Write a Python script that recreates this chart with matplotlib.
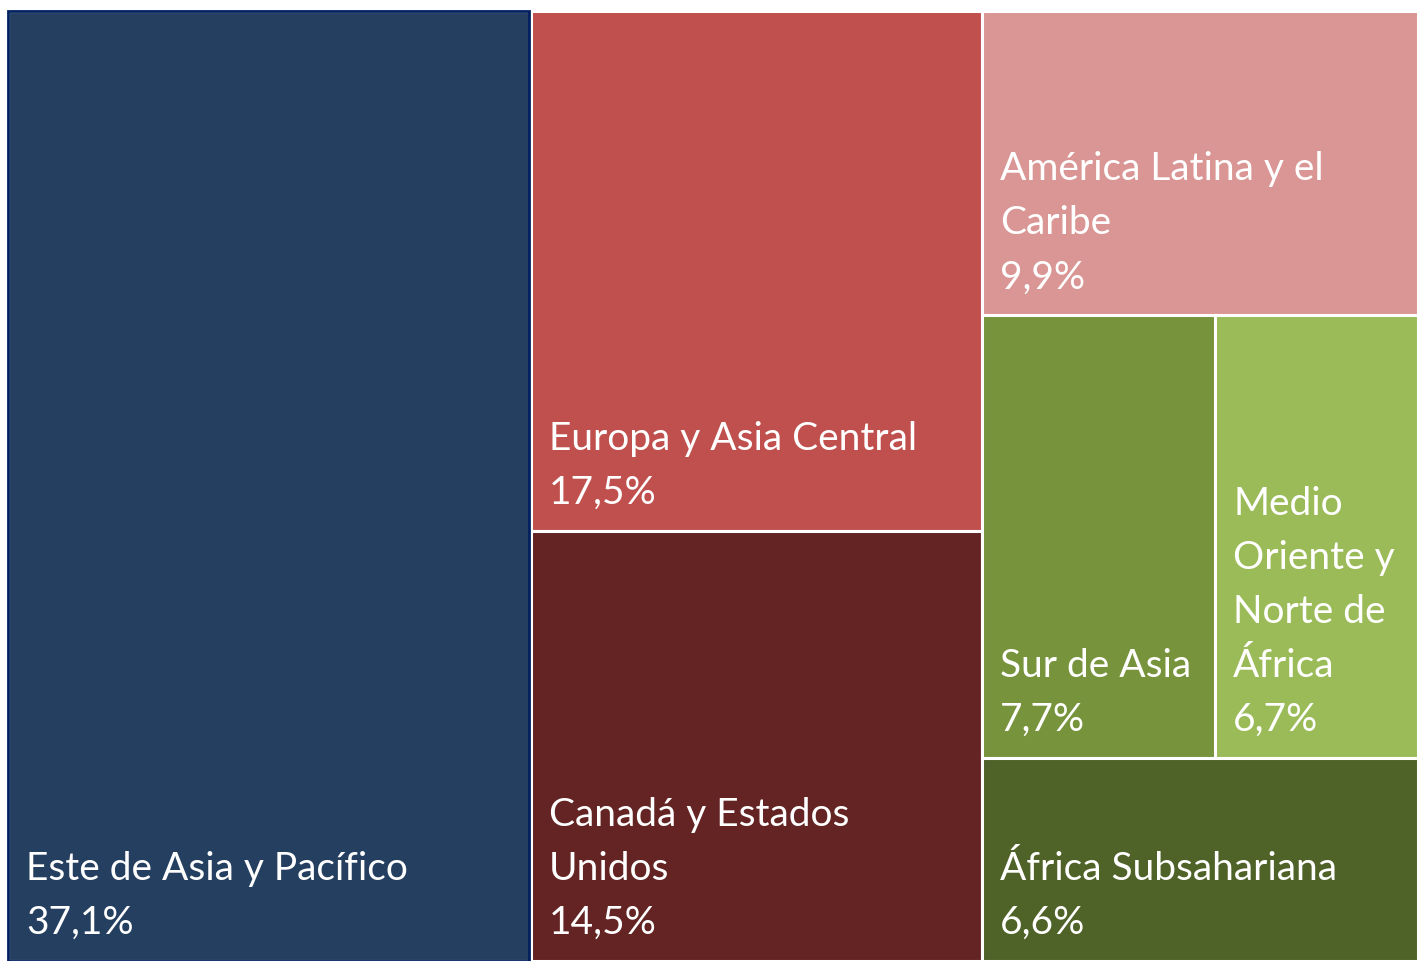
import matplotlib.pyplot as plt
from matplotlib.patches import Rectangle

REGIONS = [
    "Este de Asia y Pacífico",
    "Europa y Asia Central",
    "Canadá y Estados\nUnidos",
    "América Latina y el\nCaribe",
    "Sur de Asia",
    "Medio\nOriente y\nNorte de\nÁfrica",
    "África Subsahariana",
]
SHARES = [37.1, 17.5, 14.5, 9.9, 7.7, 6.7, 6.6]
COLORS = ["#253F60", "#C0504D", "#632423", "#D99694", "#77933C", "#9BBB59", "#4F6228"]

# nesting of the treemap: columns -> rows -> columns
GROUPS = [[0], [1, 2], [3, [4, 5], 6]]

W_PX, H_PX = 1418, 961
LEFT_PX, TOP_PX = 8, 11


def total(node):
    if isinstance(node, int):
        return SHARES[node]
    return sum(total(n) for n in node)


def layout(node, x, y, w, h, horizontal, out):
    """slice-and-dice, y grows downwards"""
    if isinstance(node, int):
        out[node] = (x, y, w, h)
        return
    s = total(node)
    for child in node:
        f = total(child) / s
        if horizontal:
            layout(child, x, y, w * f, h, False, out)
            x += w * f
        else:
            layout(child, x, y, w, h * f, True, out)
            y += h * f


def fmt(v):
    return f"{v:.1f}".replace(".", ",") + "%"


fig = plt.figure(figsize=(W_PX / 100, H_PX / 100), dpi=100)
ax = fig.add_axes([LEFT_PX / W_PX, 0, 1 - LEFT_PX / W_PX, 1 - TOP_PX / H_PX])
ax.set_xlim(0, 100)
ax.set_ylim(100, 0)
ax.axis("off")

rects = {}
layout(GROUPS, 0, 0, 100, 100, True, rects)

for i, name in enumerate(REGIONS):
    x, y, w, h = rects[i]
    ax.add_patch(Rectangle((x, y), w, h, facecolor=COLORS[i], edgecolor="white",
                           linewidth=2.2, clip_on=False))
    ax.annotate(f"{name}\n{fmt(SHARES[i])}", xy=(x, y + h), xytext=(18, 20),
                textcoords="offset pixels", ha="left", va="bottom", color="white",
                fontsize=28, family="Lato", linespacing=1.62)

# dark outline of the selected tile
x, y, w, h = rects[0]
ax.add_patch(Rectangle((x, y), w - 0.15, h, facecolor="none", edgecolor="#002060",
                       linewidth=2.0, clip_on=False))

fig.savefig("out.png", dpi=100, facecolor="white")
